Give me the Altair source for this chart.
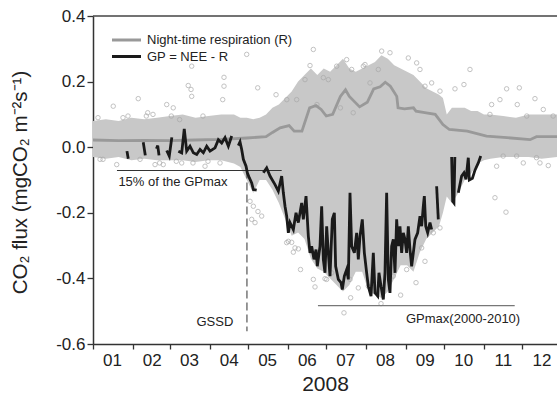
import altair as alt
import pandas as pd

# ---------------- data ----------------
month_start = [0, 31, 60, 91, 121, 152, 182, 213, 244, 274, 305, 335]
month_labels = ["01", "02", "03", "04", "05", "06", "07", "08", "09", "10", "11", "12"]
y_ticks = [-0.6, -0.4, -0.2, 0.0, 0.2, 0.4]

# envelope of the dense half-hourly NEE cloud (day of year, lower, upper)
cloud_day = [0, 10, 20, 30, 40, 50, 60, 70, 80, 90, 100, 110, 115, 120, 125, 130, 135, 140,
             145, 150, 155, 160, 165, 170, 175, 180, 185, 190, 195, 200, 205, 210, 215, 220,
             225, 230, 235, 240, 245, 250, 255, 260, 265, 270, 273, 276, 280, 285, 290, 295,
             300, 305, 310, 320, 330, 340, 350, 362]
cloud_hi = [0.08, 0.085, 0.08, 0.09, 0.085, 0.09, 0.095, 0.10, 0.09, 0.095, 0.10, 0.10, 0.09,
            0.09, 0.085, 0.09, 0.10, 0.12, 0.13, 0.15, 0.17, 0.20, 0.22, 0.24, 0.22, 0.24,
            0.23, 0.25, 0.27, 0.24, 0.23, 0.24, 0.25, 0.26, 0.28, 0.27, 0.25, 0.24, 0.23,
            0.22, 0.20, 0.18, 0.17, 0.16, 0.15, 0.10, 0.12, 0.12, 0.12, 0.11, 0.11, 0.10,
            0.10, 0.095, 0.09, 0.10, 0.10, 0.10]
cloud_lo = [-0.03, -0.035, -0.03, -0.04, -0.035, -0.04, -0.04, -0.04, -0.045, -0.04, -0.04,
            -0.05, -0.06, -0.10, -0.14, -0.10, -0.10, -0.13, -0.17, -0.22, -0.27, -0.26,
            -0.28, -0.34, -0.37, -0.38, -0.40, -0.42, -0.44, -0.42, -0.38, -0.38, -0.44,
            -0.45, -0.46, -0.44, -0.40, -0.36, -0.36, -0.38, -0.32, -0.28, -0.26, -0.24,
            -0.20, -0.15, -0.17, -0.14, -0.10, -0.08, -0.05, -0.04, -0.035, -0.03, -0.03,
            -0.03, -0.035, -0.03]

# scattered single half-hour values around the dense cloud
out_day = [15.8, 35.3, 42.7, 57.5, 62.6, 74.3, 76.5, 77.0, 77.0, 102.2, 102.2, 101.2, 128.5,
           119.9, 142.8, 174.7, 193.0, 203.0, 5.5, 18.5, 48.4, 54.8, 69.2, 87.4, 99.1, 36.7,
           122.5, 125.1, 123.8, 126.4, 131.6, 128.7, 155.0, 160.2, 156.3, 152.4, 173.2, 181.0,
           195.8, 201.0, 224.7, 240.0, 252.0, 259.0, 270.7, 171.9, 169.3, 197.9, 225.2, 231.7,
           246.0, 252.5, 294.1, 289.4, 282.4, 322.7, 332.6, 317.5, 344.8, 331.0, 311.0, 313.6,
           322.2, 314.9, 335.7, 355.2, 348.7,
           151.2, 158.9, 165.4, 179.7, 190.1, 201.8, 210.9, 212.2, 216.1, 222.6, 255.1, 259.0,
           264.2, 270.7, 183.6,
           151.1, 157.6, 161.9, 171.9, 182.3, 186.2, 200.5, 207.0, 214.8, 234.3, 244.7, 256.4,
           265.5,
           3.9, 23.4, 27.3, 41.6, 46.8, 61.1, 67.6, 85.8, 7.8, 52.0, 65.0, 78.0, 89.7,
           320.0, 330.5, 346.0, 309.7, 338.4, 351.3, 359.0]
out_val = [0.125, 0.148, 0.105, 0.13, 0.12, 0.188, 0.176, 0.155, 0.247, 0.213, 0.186, 0.145,
           0.181, 0.283, 0.16, 0.13, 0.12, 0.105, -0.037, -0.053, -0.053, -0.053, -0.048,
           -0.058, -0.048, -0.037, -0.165, -0.18, -0.22, -0.23, -0.21, -0.196, -0.29, -0.31,
           -0.32, -0.287, -0.426, -0.401, -0.505, -0.459, -0.477, -0.451, -0.413, -0.348,
           -0.246, 0.298, 0.249, 0.267, 0.293, 0.288, 0.272, 0.257, 0.237, 0.191, 0.178,
           0.178, 0.181, 0.145, 0.148, 0.13, 0.13, -0.154, -0.198, -0.058, -0.048, -0.056,
           -0.048,
           0.145, 0.145, 0.206, 0.212, 0.247, 0.237, 0.247, 0.252, 0.196, 0.237, 0.237, 0.186,
           0.196, 0.171, 0.206,
           -0.291, -0.307, -0.373, -0.403, -0.403, -0.383, -0.403, -0.429, -0.424, -0.393,
           -0.373, -0.307, -0.261,
           0.09, 0.09, 0.095, 0.095, 0.10, 0.095, 0.084, 0.095, -0.037, -0.048, -0.043, -0.048,
           -0.043,
           -0.027, -0.027, -0.032, 0.10, 0.095, 0.115, 0.095]

# night-time respiration R
r_day = [0, 20, 40, 60, 80, 100, 120, 135, 140, 146, 153, 157, 163, 169, 174, 178, 182, 187,
         193, 197, 200, 208, 214, 219, 224, 228, 232, 237, 238, 243, 250, 252, 260, 267, 273,
         278, 292, 307, 323, 341, 346, 362]
r_val = [0.022, 0.020, 0.021, 0.020, 0.022, 0.024, 0.028, 0.032, 0.045, 0.059, 0.066, 0.049,
         0.049, 0.12, 0.127, 0.115, 0.095, 0.10, 0.155, 0.175, 0.155, 0.123, 0.137, 0.178,
         0.184, 0.198, 0.186, 0.155, 0.12, 0.117, 0.12, 0.11, 0.105, 0.10, 0.069, 0.054,
         0.049, 0.034, 0.029, 0.023, 0.032, 0.032]

# gross production GP = NEE - R  (None = gap in the record)
gp_day = [26.5, 27.5, None, 39.2, 40.8, None, 49.5, 50.5, 51.5, None, 57.5, 59.5, 61.5, None,
          66.6, 69.2, 71.2, 73.1, 75.7, 78.3, 80.9, 83.5, 86.1, 88.7, 91.3, 95.2, 97.8, 100.4,
          103.0, 105.6, 108.2, None,
          113.4, 114.7, 116.0, 117.3, 119.4, 120.4, 121.9, 123.8, 125.1, 127.7, None,
          132.9, 135.5, 138.1, 142.0, 144.6, 147.2, 148.5, 149.8, 151.1, 152.4, 153.7, 156.3,
          158.4, 160.2, 162.8, 164.1, 166.2, 168.0, 169.3, 170.6, 172.4, 174.0, 175.0, 177.1,
          178.4, 179.7, 181.0, 182.3, 183.6, 184.9, 186.7, 188.3, 189.3, 191.4, 193.5, 194.5,
          196.1, 197.9, 199.2, 200.5, 201.8, 203.9, 205.7, 207.0, 208.3, 210.1, 211.7, 213.5,
          214.8, 216.9, 218.7, 220.0, 222.1, 223.1, 224.7, 226.5, 227.8, 229.1, 230.4, 231.7,
          233.0, 234.3, 235.6, 236.9, 238.2, 239.5, 240.8, 242.1, 243.4, 244.7, 246.0, 247.3,
          248.6, 249.9, 251.2, 253.3, 255.1, 256.4, 257.7, 258.5, 259.6, 261.1, 262.9, 264.2,
          None, 268.1, 269.4, None,
          279.8, 280.6, 281.6, 282.3, None,
          285.0, 287.6, 289.4, 291.0, 292.8, 293.6, 296.0, 298.0, 300.6, 302.5]
gp_val = [-0.012, -0.035, None, 0.015, -0.025, None, -0.005, 0.005, -0.025, None, -0.01, -0.027,
          0.03, None,
          -0.012, -0.017, 0.056, -0.012, 0.003, -0.017, -0.022, -0.007, -0.017, 0.003, -0.012,
          -0.002, 0.023, 0.013, 0.029, 0.003, 0.034, None,
          0.005, 0.016, -0.007, -0.037, -0.058, -0.078, -0.093, -0.109, -0.129, -0.131, None,
          -0.078, -0.063, -0.088, -0.114, -0.134, -0.088, -0.139, -0.18, -0.21, -0.261, -0.23,
          -0.251, -0.2, -0.23, -0.17, -0.22, -0.149, -0.271, -0.322, -0.302, -0.342, -0.312,
          -0.363, -0.302, -0.18, -0.342, -0.383, -0.241, -0.322, -0.393, -0.22, -0.2, -0.363,
          -0.403, -0.413, -0.434, -0.393, -0.373, -0.403, -0.139, -0.302, -0.322, -0.261,
          -0.342, -0.271, -0.22, -0.322, -0.383, -0.424, -0.454, -0.322, -0.444, -0.454,
          -0.383, -0.424, -0.464, -0.383, -0.139, -0.403, -0.444, -0.302, -0.281, -0.383,
          -0.22, -0.302, -0.241, -0.322, -0.261, -0.281, -0.322, -0.241, -0.312, -0.363,
          -0.322, -0.281, -0.261, -0.21, -0.241, -0.18, -0.149, -0.241, -0.261, -0.23, -0.251,
          None, -0.119, -0.22, None,
          -0.03, -0.165, -0.17, -0.03, None,
          -0.139, -0.088, -0.078, -0.098, -0.032, -0.10, -0.095, -0.07, -0.048, -0.027]

# reference levels and annotations
gp15_level = -0.071
gp15_span = [18.7, 147.2]
gpmax_level = -0.483
gpmax_span = [175.5, 329.0]
gssd_day = 120.1
gssd_span = [-0.071, -0.561]
left_notes = ["15% of the GPmax", "GPmax(2000-2010)"]
left_day = [19.8, 244.2]
left_val = [-0.117, -0.535]
right_notes = ["GSSD"]
right_day = [109.5]
right_val = [-0.546]
legend_labels = ["Night-time respiration (R)", "GP = NEE - R"]

# ---------------- tables ----------------
cloud_df = pd.DataFrame({"day": cloud_day, "v": cloud_lo, "v2": cloud_hi})
out_df = pd.DataFrame({"day": out_day, "v": out_val})
r_df = pd.DataFrame({"day": r_day, "v": r_val})
rows, seg = [], 0
for d, v in zip(gp_day, gp_val):
    if d is None:
        seg += 1
        continue
    rows.append({"day": d, "v": v, "seg": seg})
gp_df = pd.DataFrame(rows)
hl_df = pd.DataFrame({"day": [gp15_span[0], gpmax_span[0]],
                      "day2": [gp15_span[1], gpmax_span[1]],
                      "v": [gp15_level, gpmax_level],
                      "c": ["a", "b"]})
vl_df = pd.DataFrame({"day": [gssd_day], "v": [gssd_span[0]], "v2": [gssd_span[1]]})
lnote_df = pd.DataFrame({"day": left_day, "v": left_val, "t": left_notes})
rnote_df = pd.DataFrame({"day": right_day, "v": right_val, "t": right_notes})
top_df = pd.DataFrame({"day": [0], "day2": [362], "v": [0.4]})

FONT = "Liberation Sans"
xs = alt.Scale(domain=[0, 362], nice=False, zero=False)
ys = alt.Scale(domain=[-0.6, 0.4], nice=False, zero=False)

lab_expr = "[" + ",".join("'%s'" % m for m in month_labels) + "][indexof([" + \
    ",".join(str(m) for m in month_start) + "], datum.value)]"

xaxis = alt.Axis(values=month_start, labelExpr=lab_expr, labelOffset=19, labelFlush=False,
                 labelOverlap=False, tickSize=5, tickColor="#333", domainColor="#333",
                 domainWidth=1.5, tickWidth=1.3, labelFontSize=17, labelColor="#222",
                 labelPadding=3, grid=False, title="2008", titleFontSize=21,
                 titleFontWeight="normal", titleColor="#222", titlePadding=5)
yaxis = alt.Axis(values=y_ticks,
                 labelExpr="(datum.value < 0 ? '-' : '') + format(abs(datum.value), '.1f')",
                 tickSize=6, tickColor="#333", domainColor="#333", domainWidth=1.5,
                 tickWidth=1.3, labelFontSize=17, labelColor="#222", labelPadding=2,
                 grid=False, title="CO₂ flux (mgCO₂ m⁻²s⁻¹)", titleFontSize=20.5,
                 titleFontWeight="normal", titleColor="#222", titleX=-73, titleY=166,
                 titleAlign="center", titleBaseline="middle", titleAngle=-90)

X = alt.X("day:Q", scale=xs, axis=xaxis)
Y = alt.Y("v:Q", scale=ys, axis=yaxis)

cloud = alt.Chart(cloud_df).mark_area(color="#c8c8c8", clip=True).encode(
    x=X, y=Y, y2="v2:Q")
outl = alt.Chart(out_df).mark_point(shape="circle", filled=False, size=20, color="#a9a9a9",
                                    strokeWidth=1, clip=True).encode(x=X, y=Y)
hlines = alt.Chart(hl_df).mark_rule(strokeWidth=1.2).encode(
    x=X, x2="day2:Q", y=Y,
    color=alt.Color("c:N", scale=alt.Scale(domain=["a", "b"], range=["#333333", "#777777"]),
                    legend=None))
vline = alt.Chart(vl_df).mark_rule(color="#555", strokeWidth=1.2, strokeDash=[8, 4]).encode(
    x=X, y=Y, y2="v2:Q")
rline = alt.Chart(r_df).mark_line(color="#999999", strokeWidth=2.8, clip=True).encode(
    x=X, y=Y)
gpline = alt.Chart(gp_df).mark_line(color="#1a1a1a", strokeWidth=2.8, clip=True).encode(
    x=X, y=Y, detail="seg:N")
lnotes = alt.Chart(lnote_df).mark_text(font=FONT, fontSize=13, color="#222", align="left",
                                       baseline="alphabetic").encode(x=X, y=Y, text="t:N")
rnotes = alt.Chart(rnote_df).mark_text(font=FONT, fontSize=13, color="#222", align="right",
                                       baseline="alphabetic").encode(x=X, y=Y, text="t:N")
top = alt.Chart(top_df).mark_rule(color="#444", strokeWidth=1.5).encode(x=X, x2="day2:Q", y=Y)

one = pd.DataFrame({"k": [0]})
leg_r = alt.Chart(one).mark_rule(color="#999999", strokeWidth=3).encode(
    x=alt.value(19), x2=alt.value(48), y=alt.value(24))
leg_g = alt.Chart(one).mark_rule(color="#1a1a1a", strokeWidth=3).encode(
    x=alt.value(19), x2=alt.value(48), y=alt.value(40.5))
leg_rt = alt.Chart(one).mark_text(font=FONT, fontSize=13, color="#222", align="left",
                                  baseline="middle").encode(
    x=alt.value(54), y=alt.value(24), text=alt.value(legend_labels[0]))
leg_gt = alt.Chart(one).mark_text(font=FONT, fontSize=13, color="#222", align="left",
                                  baseline="middle").encode(
    x=alt.value(54), y=alt.value(40.5), text=alt.value(legend_labels[1]))

chart = alt.layer(cloud, outl, hlines, vline, rline, gpline, lnotes, rnotes, top,
                  leg_r, leg_g, leg_rt, leg_gt).properties(
    width=464, height=328,
    autosize=alt.AutoSizeParams(type="none"),
    padding={"left": 93, "top": 16, "right": 0, "bottom": 55},
).configure(font=FONT).configure_view(stroke=None)

chart.save("out.html", embed_options={"renderer": "svg", "actions": False})
